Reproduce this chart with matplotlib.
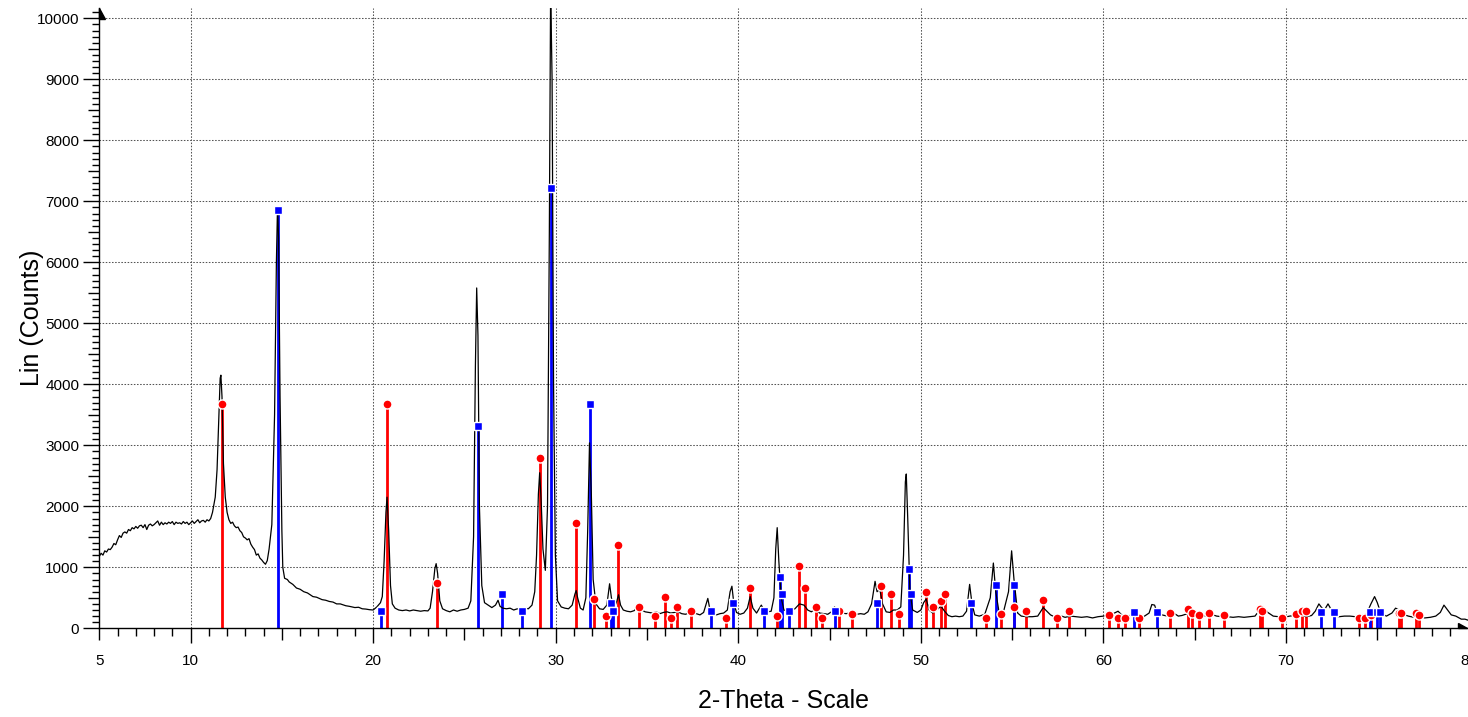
import numpy as np
import matplotlib
matplotlib.use("Agg")
import matplotlib.pyplot as plt
from matplotlib.patches import Polygon

# measured pattern (2-theta, counts)
two_theta = [
    5.00, 5.10, 5.20, 5.30, 5.40, 5.50, 5.60, 5.70, 5.80, 5.90,
    6.00, 6.10, 6.20, 6.30, 6.40, 6.50, 6.60, 6.70, 6.80, 6.90,
    7.00, 7.10, 7.20, 7.30, 7.40, 7.50, 7.60, 7.70, 7.80, 7.90,
    8.00, 8.10, 8.20, 8.30, 8.40, 8.50, 8.60, 8.70, 8.80, 8.90,
    9.00, 9.10, 9.20, 9.30, 9.40, 9.50, 9.60, 9.70, 9.80, 9.90,
    10.00, 10.10, 10.20, 10.30, 10.40, 10.50, 10.60, 10.70, 10.80, 10.90,
    11.00, 11.10, 11.20, 11.35, 11.45, 11.55, 11.62, 11.66, 11.72, 11.80,
    11.90, 12.00, 12.10, 12.20, 12.30, 12.40, 12.50, 12.60, 12.70, 12.80,
    12.90, 13.00, 13.10, 13.20, 13.30, 13.40, 13.50, 13.60, 13.70, 13.80,
    13.90, 14.00, 14.10, 14.20, 14.30, 14.45, 14.60, 14.70, 14.76, 14.82,
    14.90, 15.00, 15.05, 15.15, 15.30, 15.40, 15.60, 15.80, 16.00, 16.20,
    16.40, 16.70, 16.90, 17.20, 17.40, 17.60, 17.80, 18.00, 18.20, 18.50,
    18.70, 19.00, 19.20, 19.40, 19.60, 19.80, 20.00, 20.20, 20.40, 20.50,
    20.60, 20.70, 20.76, 20.85, 20.95, 21.05, 21.20, 21.40, 21.60, 21.80,
    22.00, 22.20, 22.40, 22.60, 22.80, 23.00, 23.12, 23.25, 23.38, 23.45,
    23.53, 23.65, 23.80, 24.00, 24.20, 24.40, 24.60, 24.80, 25.00, 25.20,
    25.35, 25.50, 25.60, 25.67, 25.74, 25.82, 25.95, 26.10, 26.30, 26.50,
    26.70, 26.84, 26.95, 27.10, 27.30, 27.50, 27.70, 27.90, 28.10, 28.30,
    28.50, 28.70, 28.85, 28.95, 29.05, 29.12, 29.20, 29.30, 29.43, 29.55,
    29.65, 29.72, 29.80, 29.88, 29.98, 30.10, 30.30, 30.50, 30.70, 30.90,
    31.05, 31.12, 31.20, 31.35, 31.50, 31.65, 31.75, 31.85, 31.95, 32.05,
    32.20, 32.40, 32.60, 32.80, 32.95, 33.05, 33.20, 33.35, 33.44, 33.55,
    33.70, 33.90, 34.10, 34.30, 34.54, 34.70, 34.90, 35.10, 35.30, 35.50,
    35.70, 35.90, 36.10, 36.30, 36.50, 36.70, 36.90, 37.10, 37.30, 37.50,
    37.70, 37.90, 38.10, 38.33, 38.45, 38.60, 38.80, 39.00, 39.20, 39.40,
    39.55, 39.65, 39.75, 39.90, 40.10, 40.30, 40.50, 40.65, 40.80, 41.00,
    41.26, 41.40, 41.60, 41.80, 41.95, 42.05, 42.13, 42.22, 42.35, 42.50,
    42.70, 42.90, 43.10, 43.35, 43.60, 43.80, 44.00, 44.23, 44.45, 44.70,
    44.90, 45.10, 45.27, 45.45, 45.70, 45.90, 46.10, 46.30, 46.50, 46.70,
    46.90, 47.10, 47.30, 47.49, 47.60, 47.75, 47.90, 48.10, 48.30, 48.50,
    48.70, 48.90, 49.05, 49.15, 49.20, 49.28, 49.40, 49.55, 49.80, 50.00,
    50.15, 50.29, 50.45, 50.65, 50.85, 51.10, 51.30, 51.50, 51.70, 51.90,
    52.10, 52.30, 52.50, 52.67, 52.80, 52.95, 53.20, 53.50, 53.80, 53.97,
    54.10, 54.30, 54.55, 54.80, 54.97, 55.10, 55.30, 55.50, 55.80, 56.10,
    56.40, 56.70, 56.90, 57.10, 57.30, 57.60, 57.90, 58.20, 58.50, 58.80,
    59.10, 59.40, 59.70, 60.00, 60.30, 60.60, 60.80, 61.00, 61.30, 61.60,
    61.90, 62.20, 62.50, 62.65, 62.80, 62.95, 63.20, 63.50, 63.70, 63.90,
    64.10, 64.30, 64.60, 64.80, 65.00, 65.30, 65.60, 65.90, 66.20, 66.50,
    66.80, 67.10, 67.40, 67.70, 68.00, 68.30, 68.55, 68.80, 69.00, 69.30,
    69.60, 69.90, 70.20, 70.50, 70.80, 71.10, 71.40, 71.60, 71.80, 71.95,
    72.10, 72.30, 72.45, 72.60, 72.90, 73.20, 73.50, 73.80, 74.10, 74.40,
    74.65, 74.85, 75.00, 75.20, 75.50, 75.80, 76.00, 76.20, 76.40, 76.70,
    77.00, 77.30, 77.60, 77.90, 78.20, 78.45, 78.65, 78.85, 79.05, 79.30,
    79.60, 79.80, 80.00,
]
counts = [
    1180, 1230, 1200, 1270, 1250, 1300, 1290, 1330, 1390, 1370,
    1450, 1520, 1490, 1560, 1580, 1560, 1620, 1600, 1650, 1630,
    1670, 1640, 1680, 1690, 1650, 1700, 1620, 1690, 1710, 1680,
    1700, 1730, 1760, 1690, 1740, 1700, 1730, 1710, 1740, 1720,
    1750, 1700, 1740, 1720, 1730, 1710, 1750, 1720, 1740, 1700,
    1730, 1760, 1720, 1750, 1780, 1730, 1760, 1770, 1740, 1780,
    1760, 1800, 1900, 2150, 2600, 3500, 4100, 4150, 3800, 2700,
    2150, 1900, 1780, 1720, 1740, 1680, 1650, 1660, 1600, 1570,
    1500, 1480, 1450, 1470, 1380, 1330, 1290, 1200, 1220, 1150,
    1120, 1080, 1050, 1110, 1300, 1700, 3500, 6000, 6900, 6400,
    3800, 1600, 1000, 820, 800, 760, 720, 660, 640, 600,
    580, 520, 510, 470, 460, 440, 430, 400, 400, 370,
    360, 340, 345, 320, 315, 305, 300, 350, 420, 520,
    1100, 1900, 2150, 1600, 700, 400, 330, 300, 290, 300,
    285, 300, 290, 280, 290, 285, 330, 600, 980, 1060,
    900, 450, 320, 290, 270, 300, 280, 300, 310, 330,
    450, 1500, 4300, 5580, 4800, 2000, 700, 420, 380, 340,
    380, 460, 360, 330, 320, 330, 300, 320, 300, 330,
    320, 380, 600, 1200, 2200, 2550, 2100, 1300, 950, 2000,
    6500, 10500, 9000, 4000, 1200, 450, 350, 330, 320, 380,
    560, 620, 500, 330, 300, 500, 1600, 3040, 2200, 800,
    400, 320, 310, 380, 730, 500, 330, 450, 550, 380,
    300, 280, 270, 290, 380, 300, 270, 260, 250, 270,
    240, 260, 270, 250, 260, 270, 240, 230, 250, 250,
    240, 220, 260, 490, 300, 230, 220, 240, 250, 300,
    600, 690, 420, 260, 230, 250, 330, 520, 330, 250,
    380, 300, 270, 280, 500, 1300, 1650, 1100, 500, 300,
    280, 300, 320, 400, 380, 300, 270, 320, 250, 240,
    230, 270, 350, 260, 250, 240, 250, 240, 230, 240,
    230, 270, 400, 770, 600, 640, 400, 270, 260, 300,
    300, 350, 1200, 2400, 2530, 1800, 600, 300, 260, 300,
    420, 480, 300, 250, 300, 360, 280, 210, 190, 200,
    190, 200, 280, 720, 400, 220, 200, 230, 500, 1070,
    600, 230, 300, 600, 1270, 800, 250, 200, 190, 190,
    200, 340, 280, 220, 190, 210, 180, 200, 190, 180,
    190, 170, 190, 200, 220, 250, 280, 220, 200, 220,
    190, 190, 250, 390, 380, 250, 220, 200, 230, 240,
    200, 210, 240, 280, 230, 210, 200, 230, 200, 190,
    190, 180, 190, 180, 190, 200, 300, 340, 260, 200,
    190, 180, 200, 210, 220, 190, 210, 280, 400, 340,
    300, 400, 320, 210, 190, 200, 200, 190, 210, 230,
    400, 520, 420, 240, 200, 250, 330, 300, 230, 200,
    180, 190, 170, 180, 200, 260, 380, 300, 220, 200,
    150, 150, 130,
]

# reference phase 1 (red sticks, circles)
red_pos = [11.72, 20.77, 23.47, 29.12, 31.12, 32.09, 32.77, 33.39, 34.54, 35.42,
           36.00, 36.31, 36.62, 37.42, 39.34, 40.65, 42.11, 43.31, 43.63, 44.23,
           44.57, 45.54, 46.20, 47.82, 48.37, 48.79, 50.29, 50.69, 51.11, 51.31,
           53.55, 54.37, 55.12, 55.78, 56.69, 57.48, 58.14, 60.28, 60.81, 61.16,
           61.96, 63.64, 64.63, 64.83, 65.25, 65.76, 66.58, 68.57, 68.71, 69.77,
           70.52, 70.88, 71.10, 73.98, 74.34, 74.67, 76.17, 76.28, 77.14, 77.30]
red_int = [3680, 3680, 737, 2795, 1725, 486, 207, 1371, 349, 202,
           518, 169, 349, 283, 169, 666, 202, 1021, 661, 349,
           169, 283, 239, 699, 557, 230, 595, 349, 452, 557,
           169, 234, 349, 283, 464, 169, 283, 213, 174, 174,
           174, 246, 311, 246, 213, 246, 213, 311, 280, 174,
           230, 283, 283, 174, 174, 213, 246, 246, 246, 213]

# reference phase 2 (blue sticks, squares)
blue_pos = [14.78, 20.42, 25.74, 27.04, 28.15, 29.76, 31.90, 33.05, 33.14, 38.48,
            39.70, 41.38, 42.26, 42.38, 42.75, 45.29, 47.58, 49.33, 49.48, 52.77,
            54.12, 55.08, 61.69, 62.93, 71.94, 72.63, 74.61, 74.98, 75.13]
blue_int = [6857, 283, 3316, 557, 283, 7218, 3677, 420, 283, 283,
            420, 283, 836, 557, 283, 283, 420, 979, 557, 420,
            705, 705, 272, 272, 272, 272, 272, 272, 272]

x_ticks = [5, 10, 20, 30, 40, 50, 60, 70, 80]
mid_x_ticks = [15, 25, 35, 45, 55, 65, 75]
y_ticks = list(range(0, 10001, 1000))
mid_y_ticks = list(range(500, 10000, 1000))

plt.rcParams['font.family'] = ['Liberation Sans', 'DejaVu Sans']

W, H = 1468, 717
fig = plt.figure(figsize=(W / 100, H / 100), dpi=100)
ax_l, ax_r, ax_t, ax_b = 99.3, 1468.6, 8.0, 628.3
ax = fig.add_axes([ax_l / W, (H - ax_b) / H, (ax_r - ax_l) / W, (ax_b - ax_t) / H])
aw, ah = ax_r - ax_l, ax_b - ax_t

ax.set_xlim(5, 80)
ax.set_ylim(0, 10170)

# grid
for gx in x_ticks[1:-1]:
    ax.axvline(gx, color='#555555', lw=0.75, ls=(0, (1.5, 1.5)), zorder=1)
for gy in y_ticks[1:]:
    ax.axhline(gy, color='#555555', lw=0.75, ls=(0, (1.5, 1.5)), zorder=1)

# sticks
ax.vlines(red_pos, 0, red_int, color='#ff0000', lw=2.0, zorder=2)
ax.vlines(blue_pos, 0, blue_int, color='#0000ff', lw=2.0, zorder=2)

ax.plot(two_theta, counts, color='black', lw=0.9, zorder=3)

ax.plot(red_pos, red_int, 'o', color='#ff0000', ms=6.5, mec='white', mew=1.0, zorder=4)
ax.plot(blue_pos, blue_int, 's', color='#0000ff', ms=6.0, mec='white', mew=1.0, zorder=4)

# axes look
for s in ['top', 'right']:
    ax.spines[s].set_visible(False)
for s in ['left', 'bottom']:
    ax.spines[s].set_linewidth(1.0)

ax.set_xticks(x_ticks + mid_x_ticks)
ax.set_xticklabels([str(t) for t in x_ticks] + [''] * len(mid_x_ticks))
ax.set_xticks(np.arange(5, 81, 1), minor=True)
ax.set_yticks(y_ticks + mid_y_ticks)
ax.set_yticklabels([str(t) for t in y_ticks] + [''] * len(mid_y_ticks))
ax.set_yticks(np.arange(0, 10101, 100), minor=True)

ax.tick_params(axis='x', which='major', direction='out', length=10.8, width=1.0,
               labelsize=11, pad=8)
ax.tick_params(axis='x', which='minor', direction='out', length=5.8, width=1.0)
ax.tick_params(axis='y', which='major', direction='out', length=11.5, width=1.0,
               labelsize=11, pad=3)
ax.tick_params(axis='y', which='minor', direction='out', length=5.0, width=1.0)

for t, loc in zip(ax.xaxis.get_major_ticks(), x_ticks + mid_x_ticks):
    if loc == 5 or loc in mid_x_ticks:
        t.tick1line.set_markersize(8.6)
for t, loc in zip(ax.yaxis.get_major_ticks(), y_ticks + mid_y_ticks):
    if loc in mid_y_ticks:
        t.tick1line.set_markersize(7.8)
        t.tick1line.set_color('#888888')

# axis end arrows
ax.add_patch(Polygon([(0, 1), (0, 1 - 11 / ah), (6 / aw, 1 - 11 / ah)],
                     closed=True, transform=ax.transAxes, color='black',
                     clip_on=False, zorder=5))
ax.add_patch(Polygon([(1 - 2 / aw, 0), (1 - 11 / aw, 0), (1 - 11 / aw, 5 / ah)],
                     closed=True, transform=ax.transAxes, color='black',
                     clip_on=False, zorder=5))

ax.set_xlabel('2-Theta - Scale', fontsize=18, labelpad=15)
ax.set_ylabel('Lin (Counts)', fontsize=18, labelpad=-5)

fig.savefig('out.png', dpi=100)
